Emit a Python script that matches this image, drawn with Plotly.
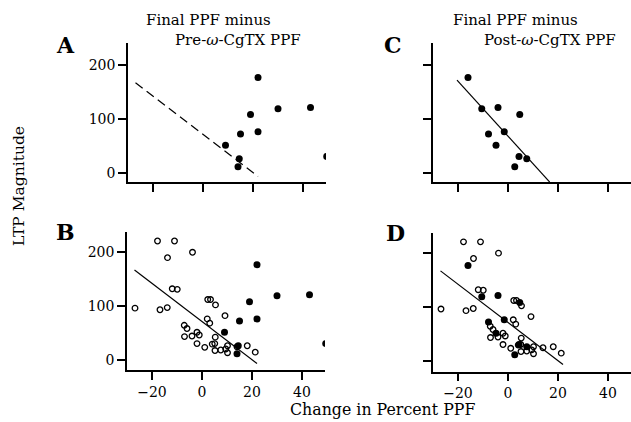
import plotly.graph_objects as go

# ---------------- data ----------------
# filled circles: same 10 cells, plotted against two different PPF changes
ltp_filled = [177, 108, 119, 121, 72, 76, 51, 26, 11, 30]
pre_change = [22, 19, 30, 43, 15, 22, 9, 14.5, 14, 49.5]
post_change = [-16, 4.7, -10.5, -4, -7.8, -1.5, -4.8, 7.5, 2.7, 4.4]

# open circles (shown in B and D)
open_change = [-26.8, -17.8, -11, -13.8, -3.8, -11.9, -9.9, -16.8, -13.9, 2.3,
               3.4, 5.4, 9.2, 2.1, 3.1, -7.1, -6, -7, -4, -2,
               -1.1, -2, 1.1, 4.1, 5.3, 5.1, 5.2, 7.5, 9.5, 10.2,
               10.2, 14, 18.1, 21.3]
open_ltp = [96, 221, 221, 190, 200, 132, 131, 93, 97, 112,
            112, 102, 82, 76, 68, 64, 58, 43, 44, 51,
            46, 30, 23, 29, 42, 30, 17, 18, 20, 26,
            13, 24, 26, 14]

# regression lines
fit_all_x = [-27, 22]
fit_all_y = [167, -7]
fit_post_x = [-20.4, 16.7]
fit_post_y = [172, -17.5]

x_ticks = [-20, 0, 20, 40]
y_ticks = [0, 100, 200]

# ---------------- layout helpers ----------------
W, H = 631, 422
FONT = "DejaVu Serif"


def fx(p):
    return p / W


def fy(p):
    return 1 - p / H


fig = go.Figure()

line_style = dict(color="black", width=1.2)
filled = dict(symbol="circle", size=7, color="black")
hollow = dict(symbol="circle-open", size=5.6, color="black", line=dict(width=1.3, color="black"))

# Panel A
fig.add_trace(go.Scatter(x=fit_all_x, y=fit_all_y, mode="lines",
                         line=dict(color="black", width=1.2, dash="9px,5px"),
                         xaxis="x", yaxis="y"))
fig.add_trace(go.Scatter(x=pre_change, y=ltp_filled, mode="markers", marker=filled,
                         xaxis="x", yaxis="y"))
# Panel B
fig.add_trace(go.Scatter(x=open_change, y=open_ltp, mode="markers", marker=hollow,
                         xaxis="x2", yaxis="y2"))
fig.add_trace(go.Scatter(x=fit_all_x, y=fit_all_y, mode="lines", line=line_style,
                         xaxis="x2", yaxis="y2"))
fig.add_trace(go.Scatter(x=pre_change, y=ltp_filled, mode="markers", marker=filled,
                         xaxis="x2", yaxis="y2"))
# Panel C
fig.add_trace(go.Scatter(x=fit_post_x, y=fit_post_y, mode="lines", line=line_style,
                         xaxis="x3", yaxis="y3"))
fig.add_trace(go.Scatter(x=post_change, y=ltp_filled, mode="markers", marker=filled,
                         xaxis="x3", yaxis="y3"))
# Panel D
fig.add_trace(go.Scatter(x=open_change, y=open_ltp, mode="markers", marker=hollow,
                         xaxis="x4", yaxis="y4"))
fig.add_trace(go.Scatter(x=fit_all_x, y=fit_all_y, mode="lines", line=line_style,
                         xaxis="x4", yaxis="y4"))
fig.add_trace(go.Scatter(x=post_change, y=ltp_filled, mode="markers", marker=filled,
                         xaxis="x4", yaxis="y4"))


def xaxis(dom, anchor, labels):
    return dict(domain=[fx(dom[0]), fx(dom[1])], range=[-30, 49.2], anchor=anchor,
                showline=True, linecolor="black", linewidth=1.5,
                ticks="outside", ticklen=8, tickwidth=1.5, tickcolor="black",
                tickvals=x_ticks, showticklabels=labels, showgrid=False, zeroline=False,
                tickfont=dict(family=FONT, size=14, color="black"))


def yaxis(dom, rng, anchor, labels):
    return dict(domain=[fy(dom[1]), fy(dom[0])], range=rng, anchor=anchor,
                showline=True, linecolor="black", linewidth=1.5,
                ticks="outside", ticklen=8, tickwidth=1.5, tickcolor="black",
                tickvals=y_ticks, showticklabels=labels, showgrid=False, zeroline=False,
                tickfont=dict(family=FONT, size=14, color="black"))


fig.update_layout(
    width=W, height=H,
    margin=dict(l=0, r=0, t=0, b=0),
    paper_bgcolor="white", plot_bgcolor="white",
    showlegend=False,
    xaxis=xaxis([128, 326], "y", False),
    yaxis=yaxis([43, 182], [-17.3, 241], "x", True),
    xaxis2=xaxis([127, 325], "y2", True),
    yaxis2=yaxis([232, 370], [-19.2, 237.8], "x2", True),
    xaxis3=xaxis([433, 631], "y3", False),
    yaxis3=yaxis([43, 182], [-17.3, 241], "x3", False),
    xaxis4=xaxis([433, 631], "y4", True),
    yaxis4=yaxis([232.7, 371.7], [-20.5, 238], "x4", False),
)


def note(text, x, y, size, angle=0, yanchor="middle"):
    fig.add_annotation(text=text, x=fx(x), y=fy(y), xref="paper", yref="paper",
                       xanchor="center", yanchor=yanchor, showarrow=False,
                       textangle=angle, borderpad=0,
                       font=dict(family=FONT, size=size, color="black"))


note("<b>A</b>", 65, 45, 22)
note("<b>B</b>", 65, 232, 22)
note("<b>C</b>", 393, 45, 22)
note("<b>D</b>", 395, 233, 22)
note("Final PPF minus", 208.5, 29.5, 15, yanchor="bottom")
note("Pre-<i>ω</i>-CgTX PPF", 237.5, 29.5, 15, yanchor="top")
note("Final PPF minus", 515.5, 29.5, 15, yanchor="bottom")
note("Post-<i>ω</i>-CgTX PPF", 549.5, 29.5, 15, yanchor="top")
note("Change in Percent PPF", 382, 409, 15.8)
note("LTP Magnitude", 19, 186, 15.5, -90)

fig.write_html("out.html",
               config={"displayModeBar": False},
               post_script="document.body.style.margin='0';"
                           "document.body.style.overflow='hidden';")
